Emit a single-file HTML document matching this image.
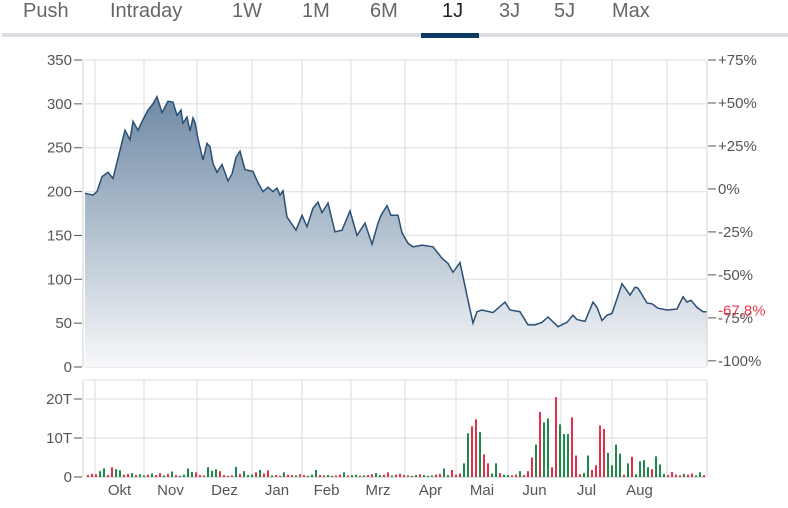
<!DOCTYPE html>
<html><head><meta charset="utf-8"><style>
body{margin:0;width:788px;height:508px;background:#fff;overflow:hidden;font-family:"Liberation Sans",sans-serif}
.tab{position:absolute;top:-1px;font-size:20px;color:#666;line-height:24px}
</style></head><body>
<div>
<span class="tab" style="left:23px">Push</span>
<span class="tab" style="left:110px">Intraday</span>
<span class="tab" style="left:232px">1W</span>
<span class="tab" style="left:302px">1M</span>
<span class="tab" style="left:370px">6M</span>
<span class="tab" style="left:442px;color:#222">1J</span>
<span class="tab" style="left:499px">3J</span>
<span class="tab" style="left:554px">5J</span>
<span class="tab" style="left:612px">Max</span>
<div style="position:absolute;left:2px;top:33px;width:786px;height:4px;background:#dcdfe3"></div>
<div style="position:absolute;left:421px;top:33px;width:58px;height:5px;background:#0d3a63"></div>
</div>
<svg id="c" width="788" height="508" style="position:absolute;left:0;top:0"></svg>
<script>
const days=[0,8,12,17,23,28,35,40,45,48,53,58,63,68,72,77,83,88,92,96,98,102,105,108,110,113,118,122,125,128,132,137,143,147,151,155,160,168,173,178,183,188,192,195,198,202,211,217,222,228,233,237,243,250,257,265,272,280,287,293,296,302,306,313,317,323,328,337,348,357,363,368,375,378,383,388,392,397,408,420,425,435,443,450,457,463,473,482,488,492,500,508,512,517,522,527,537,542,545,550,553,562,567,573,582,592,598,602,606,612,618,622];
const prices=[198,196,200,217,222,215,247,270,259,280,270,282,293,300,308,290,303,302,287,293,278,285,269,284,279,260,236,255,251,232,222,231,212,220,239,246,225,223,210,200,205,200,204,196,201,171,156,173,160,181,188,176,187,154,156,178,150,164,140,164,173,184,173,173,153,141,137,139,137,124,118,108,119,103,76,50,63,65,62,74,65,63,48,48,51,57,46,51,59,54,52,74,68,53,59,61,95,87,82,91,90,73,72,67,65,66,80,74,76,68,63,63];
const rightTicks=["+75%","+50%","+25%","0%","-25%","-50%","-75%","-100%"];
const leftTicks=[0,50,100,150,200,250,300,350];
const months=["Okt","Nov","Dez","Jan","Feb","Mrz","Apr","Mai","Jun","Jul","Aug"];
const volumes=[0.5,0.8,0.7,1.5,2.2,0.5,2.5,2.0,1.7,0.6,0.8,1.0,0.5,0.7,0.4,0.6,0.9,0.5,1.0,0.4,0.8,1.4,0.5,0.3,0.6,2.2,1.3,1.2,0.5,0.4,2.5,1.6,2.0,1.5,0.5,0.3,0.4,2.6,0.8,1.5,0.5,0.6,1.2,1.8,0.9,1.7,0.4,0.5,0.3,1.2,0.6,0.5,0.4,0.7,0.5,0.3,0.6,1.8,0.5,0.4,0.5,0.3,0.4,0.6,1.2,0.4,0.5,0.6,0.3,0.4,0.5,0.7,1.0,0.5,0.6,1.2,0.4,0.6,0.8,0.5,0.4,0.3,0.5,0.7,0.5,0.3,0.4,0.6,0.8,2.2,0.5,1.8,0.6,0.9,3.5,11.2,13.0,14.8,11.5,5.8,3.5,0.9,3.5,1.0,0.6,0.5,0.4,0.6,1.5,0.5,1.5,5.0,8.3,16.7,14.0,15.0,2.5,20.5,13.5,11.0,11.0,15.3,5.5,0.7,1.0,5.5,1.8,3.0,13.2,12.3,6.2,3.0,8.3,6.0,0.6,3.5,5.2,0.7,4.0,4.3,2.5,2.0,5.3,3.2,0.8,0.5,1.3,0.6,0.4,0.8,0.6,0.9,0.4,1.2,0.5];
const volUp="rrrggrrggrrgrggrgrrgrgrggggrrrgggrrrrgrgggrgrrgrrgrrgrrgggrrggrrgrggrgrrggrrgrrrgrgrgggrrggrrrggrrgrrggrggrrgrrrgrggrrgggrrrggrrrrggggrgrggggrgggrrrrgrrggrrrrg".split("");
const volTicks=[0,10,20];
const X0=85,X1=706,Y0=367,Y1=60,VY0=477;
const xs=d=>X0+d/621*(X1-X0);
const ys=p=>Y0-p/350*(Y0-Y1);
const vy=v=>VY0-v/10*39;
const vx=i=>87+i*4;
const NS="http://www.w3.org/2000/svg";
const svg=document.getElementById('c');
function mk(t,a,txt){const e=document.createElementNS(NS,t);for(const k in a)e.setAttribute(k,a[k]);if(txt!==undefined)e.textContent=txt;svg.appendChild(e);return e;}
const defs=mk('defs',{});defs.innerHTML='<linearGradient id="g" x1="0" y1="0" x2="0" y2="1"><stop offset="0" stop-color="#6f8aa5"/><stop offset="1" stop-color="#f7f8fa"/></linearGradient>';
const vgrid=[95,144,197,252,302,351,405,456,508,561,612,667];
for(const v of leftTicks){const l=mk('line',{x1:X0,x2:X1,y1:ys(v),y2:ys(v),stroke:'#e3e6ea','stroke-width':1.5});
}
for(const gx of vgrid){mk('line',{x1:gx,x2:gx,y1:Y1,y2:Y0,stroke:'#e3e6ea','stroke-width':1.5});mk('line',{x1:gx,x2:gx,y1:380,y2:VY0,stroke:'#e3e6ea','stroke-width':1.5});}
for(const v of volTicks){mk('line',{x1:X0,x2:X1,y1:vy(v),y2:vy(v),stroke:'#e3e6ea','stroke-width':1.5});}
mk('line',{x1:X0,x2:X1,y1:380,y2:380,stroke:'#e3e6ea','stroke-width':1.5});
let pts=days.map((d,i)=>xs(d).toFixed(1)+','+ys(prices[i]).toFixed(1));
const area=mk('path',{d:'M'+xs(days[0])+','+Y0+' L'+pts.join(' L')+' L'+xs(days[days.length-1])+','+Y0+'Z',fill:'url(#g)'});

const line=mk('path',{d:'M'+pts.join(' L'),fill:'none',stroke:'#2b4f74','stroke-width':1.5});

mk('line',{x1:X0-2,x2:X0-2,y1:Y1,y2:Y0,stroke:'#ccd0d5'});
mk('line',{x1:X1+1,x2:X1+1,y1:Y1,y2:Y0,stroke:'#ccd0d5'});
mk('line',{x1:X0-2,x2:X0-2,y1:380,y2:VY0,stroke:'#ccd0d5'});
mk('line',{x1:X1+1,x2:X1+1,y1:380,y2:VY0,stroke:'#ccd0d5'});
mk('line',{x1:X0,x2:X1,y1:VY0,y2:VY0,stroke:'#ccd0d5'});
for(const v of leftTicks){const y=ys(v);mk('line',{x1:74,x2:82,y1:y,y2:y,stroke:'#555'});
const t=mk('text',{x:72,y:y+5,'text-anchor':'end','font-size':15,fill:'#555'},String(v));
}
rightTicks.forEach((s,i)=>{const y=ys(350-i*50*0.98);mk('line',{x1:708,x2:716,y1:y,y2:y,stroke:'#555'});
const t=mk('text',{x:718,y:y+5,'font-size':15,fill:'#555'},s);
});
const last=mk('text',{x:718,y:ys(prices[prices.length-1])+4,'font-size':15,fill:'#e8384f'},'-67,8%');

volumes.forEach((v,i)=>{const r=mk('rect',{x:vx(i),y:vy(v),width:2,height:VY0-vy(v),fill:volUp[i]==='g'?'#1e8a4a':'#e2304a'});
});
for(const v of volTicks){const y=vy(v);mk('line',{x1:74,x2:82,y1:y,y2:y,stroke:'#555'});
const t=mk('text',{x:72,y:y+5,'text-anchor':'end','font-size':15,fill:'#555'},v===0?'0':v+'T');
}
months.forEach((m,i)=>{const cx=(vgrid[i]+vgrid[i+1])/2;
const t=mk('text',{x:cx,y:495,'text-anchor':'middle','font-size':15,fill:'#555'},m);
});
</script>
</body></html>
